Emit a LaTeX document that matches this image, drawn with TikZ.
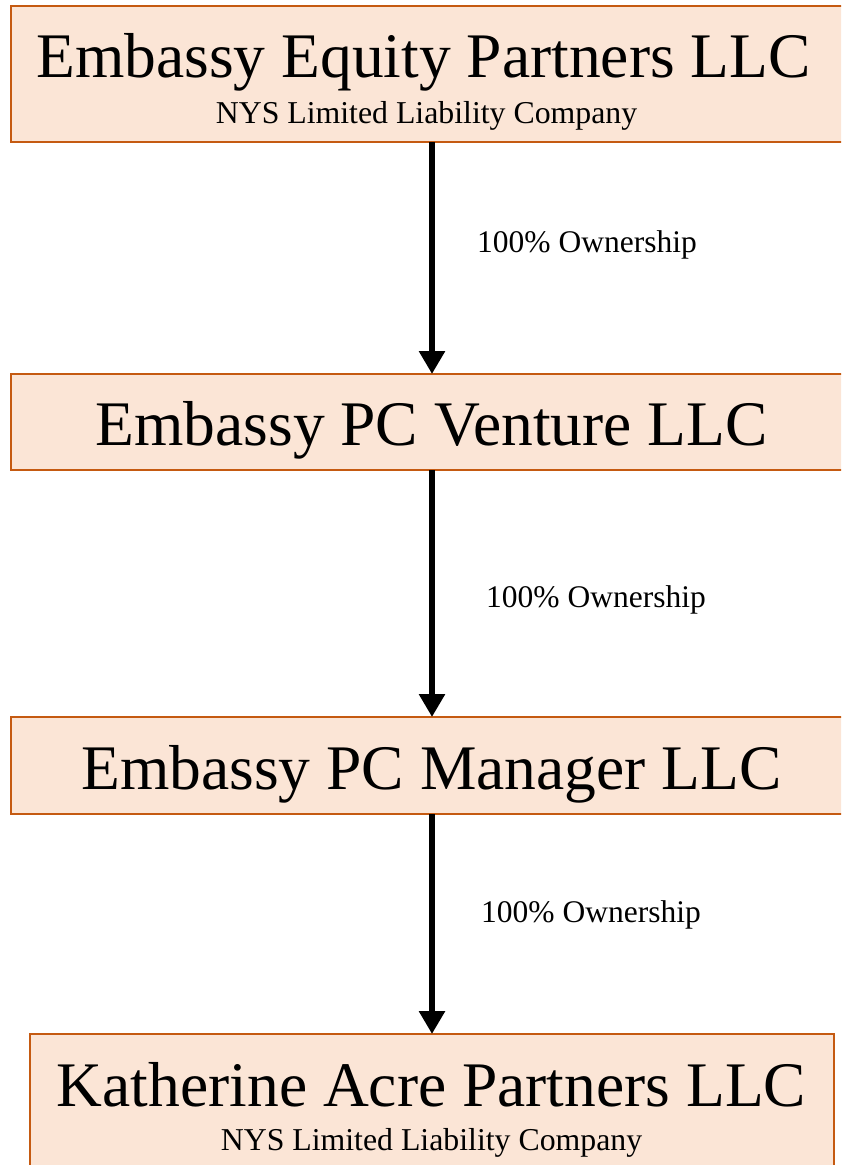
\documentclass[tikz,border=0pt]{standalone}
\usepackage{fontspec}
\setmainfont{Liberation Serif}
\usetikzlibrary{arrows.meta}
\definecolor{boxfill}{HTML}{FBE5D6}
\definecolor{boxline}{HTML}{C55A11}
\tikzset{
  box/.style={draw=boxline, fill=boxfill, line width=2pt, rectangle, anchor=north west, inner sep=0pt, outer sep=0pt},
  title/.style={anchor=base, inner sep=0pt, font=\fontsize{63.5}{64}\selectfont},
  sub/.style={anchor=base, inner sep=0pt, font=\fontsize{31.8}{32}\selectfont},
  lbl/.style={anchor=base, inner sep=0pt, font=\fontsize{31.5}{32}\selectfont},
  own/.style={line width=6.5pt, -{Triangle[width=25pt,length=23pt]}},
}
\begin{document}
\begin{tikzpicture}[x=1pt,y=-1pt]
\useasboundingbox (0,0) rectangle (841,1165);
\begin{scope}
\clip (0,0) rectangle (841,1165);
\node[box, minimum width=842pt, minimum height=136pt] (b1) at (11,6) {};
\node[box, minimum width=842pt, minimum height=96pt] (b2) at (11,374) {};
\node[box, minimum width=842pt, minimum height=97pt] (b3) at (11,717) {};
\node[box, minimum width=804pt, minimum height=160pt] (b4) at (30,1034) {};
\end{scope}
\node[title] (t1) at (423.5,77) {Embassy Equity Partners LLC};
\node[sub] (s1) at (426.5,123) {NYS Limited Liability Company};
\node[title] (t2) at (431.5,445) {Embassy PC Venture LLC};
\node[title] (t3) at (431.5,789) {Embassy PC Manager LLC};
\node[title] (t4) at (431.5,1106) {Katherine Acre Partners LLC};
\node[sub] (s4) at (431.5,1150) {NYS Limited Liability Company};
\draw[own] (b1.south) -- (b2.north);
\draw[own] (b2.south) -- (b3.north);
\draw[own] (b3.south) -- (b4.north);
\node[lbl] (l1) at (587,252) {100\% Ownership};
\node[lbl] (l2) at (596,607) {100\% Ownership};
\node[lbl] (l3) at (591,922) {100\% Ownership};
\end{tikzpicture}
\end{document}
